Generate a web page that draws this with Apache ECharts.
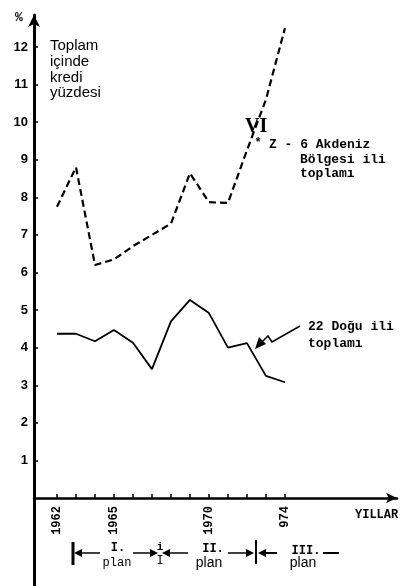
<!DOCTYPE html>
<html><head><meta charset="utf-8">
<script src="https://cdn.jsdelivr.net/npm/echarts@6/dist/echarts.min.js"></script>
<style>html,body{margin:0;padding:0;background:#fff}#c{width:400px;height:586px}</style>
</head><body><div id="c"></div>
<script>
const years = [1962,1963,1964,1965,1966,1967,1968,1969,1970,1971,1972,1973,1974];
const akdeniz = [7.75,8.8,6.2,6.35,6.7,7.0,7.3,8.64,7.87,7.85,9.25,10.6,12.5];
const dogu = [4.37,4.37,4.17,4.47,4.13,3.43,4.7,5.27,4.92,4.0,4.12,3.25,3.08];
const yTickValues = [1,2,3,4,5,6,7,8,9,10,11,12];
const xLabelYears = [1962,1965,1970,1974];
const xLabelTexts = ['1962','1965','1970','974'];

const chart = echarts.init(document.getElementById('c'), null, {renderer:'canvas'});
const mono = 'Liberation Mono, DejaVu Sans Mono, monospace';
const sans = 'Liberation Sans, Arial, sans-serif';
function txt(t, x, y, font, align){ return {type:'text', style:{text:t, x:x, y:y, font:font, fill:'#000', textAlign:align||'left', textVerticalAlign:'middle'}}; }
function ln(x1,y1,x2,y2,w){ return {type:'line', shape:{x1:x1,y1:y1,x2:x2,y2:y2}, style:{stroke:'#000', lineWidth:w||1.5}}; }
function tri(pts){ return {type:'polygon', shape:{points:pts}, style:{fill:'#000'}}; }

const annotations = [
    txt('%', 19, 18, 'bold 13px '+mono, 'center'),
    txt('Toplam', 50, 46, '15px '+sans),
    txt('içinde', 50, 62, '15px '+sans),
    txt('kredi', 50, 78, '15px '+sans),
    txt('yüzdesi', 50, 93, '15px '+sans),
    txt('VI', 245, 127, 'bold 20px Liberation Serif, serif'),
    txt('*', 258, 143, 'bold 12px '+mono, 'center'),
    txt('Z - 6 Akdeniz', 269, 145, 'bold 13px '+mono),
    txt('Bölgesi ili', 300, 160, 'bold 13px '+mono),
    txt('toplamı', 300, 174, 'bold 13px '+mono),
    txt('22 Doğu ili', 308, 327, 'bold 13px '+mono),
    txt('toplamı', 308, 344, 'bold 13px '+mono),
    {type:'polyline', shape:{points:[[300,326],[272,342],[268,336],[262,342]]}, style:{stroke:'#000', lineWidth:1.5, fill:null}},
    tri([[255,349],[259,337],[266,344]]),
    txt('YILLAR', 355, 515, 'bold 12px '+mono),
    ln(73,542,73,565,3),
    ln(77,553,100,553,1.5),
    tri([[74,553],[82,549],[82,557]]),
    txt('I.', 118, 548, 'bold 12px '+mono, 'center'),
    txt('plan', 117, 563, '12px '+mono, 'center'),
    ln(133,553,152,553,1.5),
    tri([[158,553],[150,549],[150,557]]),
    txt('i', 160, 547, 'bold 11px '+mono, 'center'),
    txt('I', 160, 561, '12px '+mono, 'center'),
    ln(168,553,188,553,1.5),
    tri([[162,553],[170,549],[170,557]]),
    txt('II.', 213, 549, 'bold 12px '+mono, 'center'),
    txt('plan', 209, 563, '14px '+sans, 'center'),
    ln(228,553,248,553,1.5),
    tri([[254,553],[246,549],[246,557]]),
    ln(256,540,256,564,2),
    ln(264,553,277,553,2),
    tri([[258,553],[266,549],[266,557]]),
    txt('III.', 306, 551, 'bold 12px '+mono, 'center'),
    ln(323,553,339,553,2),
    txt('plan', 303, 563, '14px '+sans, 'center')
];

chart.setOption({
  animation:false,
  backgroundColor:'#fff',
  grid:{left:34, right:3, top:15, bottom:0, containLabel:false, outerBoundsMode:'none'},
  xAxis:{
    type:'value', min:1960.79, max:1979.9,
    axisLine:{onZero:true, lineStyle:{color:'#000', width:2.5}, symbol:['none','arrow'], symbolSize:[8,11]},
    axisTick:{inside:true, length:4, lineStyle:{color:'#000', width:1.5}, customValues:years},
    axisLabel:{show:false},
    splitLine:{show:false}
  },
  yAxis:{
    type:'value', min:-2.34, max:12.85,
    axisLine:{onZero:false, lineStyle:{color:'#000', width:3}, symbol:['none','arrow'], symbolSize:[9,12]},
    axisTick:{inside:true, length:4, lineStyle:{color:'#000', width:1.5}, customValues:yTickValues},
    axisLabel:{customValues:yTickValues, margin:6, color:'#000', fontFamily:sans, fontWeight:'bold', fontSize:13},
    splitLine:{show:false}
  },
  series:[
    {type:'line', name:'Akdeniz', data:years.map((y,i)=>[y,akdeniz[i]]), showSymbol:false, symbol:'none',
      lineStyle:{color:'#000', width:2.2, type:[7,4]}},
    {type:'line', name:'Dogu', data:years.map((y,i)=>[y,dogu[i]]), showSymbol:false, symbol:'none',
      lineStyle:{color:'#000', width:1.8}}
  ]
});

// year labels placed through the x axis scale
const axisY = chart.convertToPixel({yAxisIndex:0}, 0);
xLabelYears.forEach(function(yr, i){
  const px = chart.convertToPixel({xAxisIndex:0}, yr);
  annotations.push({type:'text', x:px, y:axisY + 8, rotation:Math.PI/2,
    style:{text:xLabelTexts[i], x:0, y:0, font:'bold 12px '+mono, fill:'#000', textAlign:'right', textVerticalAlign:'middle'}});
});
chart.setOption({graphic:{elements:annotations}});
</script></body></html>
